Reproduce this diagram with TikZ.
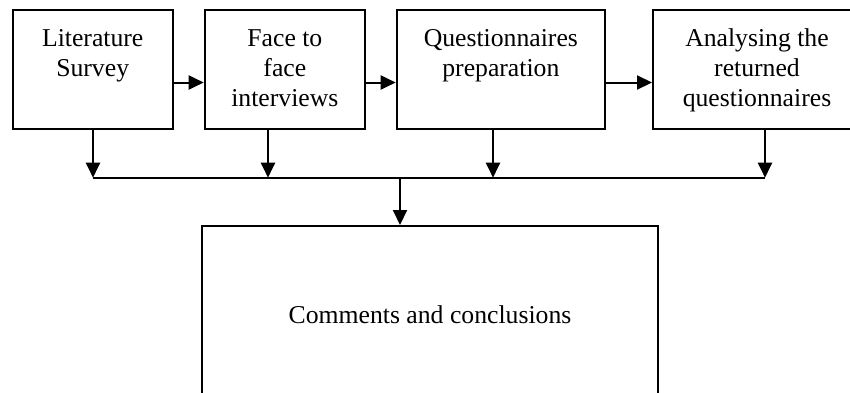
\documentclass[tikz,border=0pt]{standalone}
\usepackage{fontspec}
\setmainfont{Liberation Serif}
\usetikzlibrary{arrows.meta}
\newcommand\topbox[3]{\parbox[c][#2][t]{#1}{\centering\rule{0pt}{36pt}#3}}
\begin{document}
\begin{tikzpicture}[x=1pt,y=1pt,
  box/.style={draw,line width=2pt,rectangle,inner sep=0pt,
    font=\fontsize{25.7pt}{30pt}\selectfont},
  arr/.style={line width=2pt,-{Triangle[length=15pt,width=14pt]}},
  ln/.style={line width=2pt}]
\useasboundingbox (0,0) rectangle (850,-392);
\node[box,minimum width=160pt,minimum height=119.3pt] (a) at (92.7,-69.65)
  {\topbox{150pt}{119.3pt}{Literature\\Survey}};
\node[box,minimum width=160.3pt,minimum height=119.3pt] (b) at (284.85,-69.65)
  {\topbox{150pt}{119.3pt}{Face to\\face\\interviews}};
\node[box,minimum width=208.3pt,minimum height=119.3pt] (c) at (500.85,-69.65)
  {\topbox{198pt}{119.3pt}{Questionnaires\\preparation}};
\node[box,minimum width=208pt,minimum height=119.3pt] (d) at (757,-69.65)
  {\topbox{198pt}{119.3pt}{Analysing the\\returned\\questionnaires}};
\node[box,minimum width=456pt,minimum height=176.4pt] (e) at (430,-314.2)
  {Comments and conclusions};
% bus coordinates
\coordinate (b1) at (93,-177.7);
\coordinate (b2) at (268,-177.7);
\coordinate (b3) at (493,-177.7);
\coordinate (b4) at (765,-177.7);
\coordinate (bm) at (400,-177.7);
% horizontal arrows
\draw[arr] (a.east |- 0,-82.5) -- (b.west |- 0,-82.5);
\draw[arr] (b.east |- 0,-82.5) -- (c.west |- 0,-82.5);
\draw[arr] (c.east |- 0,-82.5) -- (d.west |- 0,-82.5);
% down arrows
\draw[arr] (a.south -| b1) -- (b1);
\draw[arr] (b.south -| b2) -- (b2);
\draw[arr] (c.south -| b3) -- (b3);
\draw[arr] (d.south -| b4) -- (b4);
\draw[ln] (b1) -- (b4);
\draw[arr] (bm) -- (e.north -| bm);
\end{tikzpicture}
\end{document}
